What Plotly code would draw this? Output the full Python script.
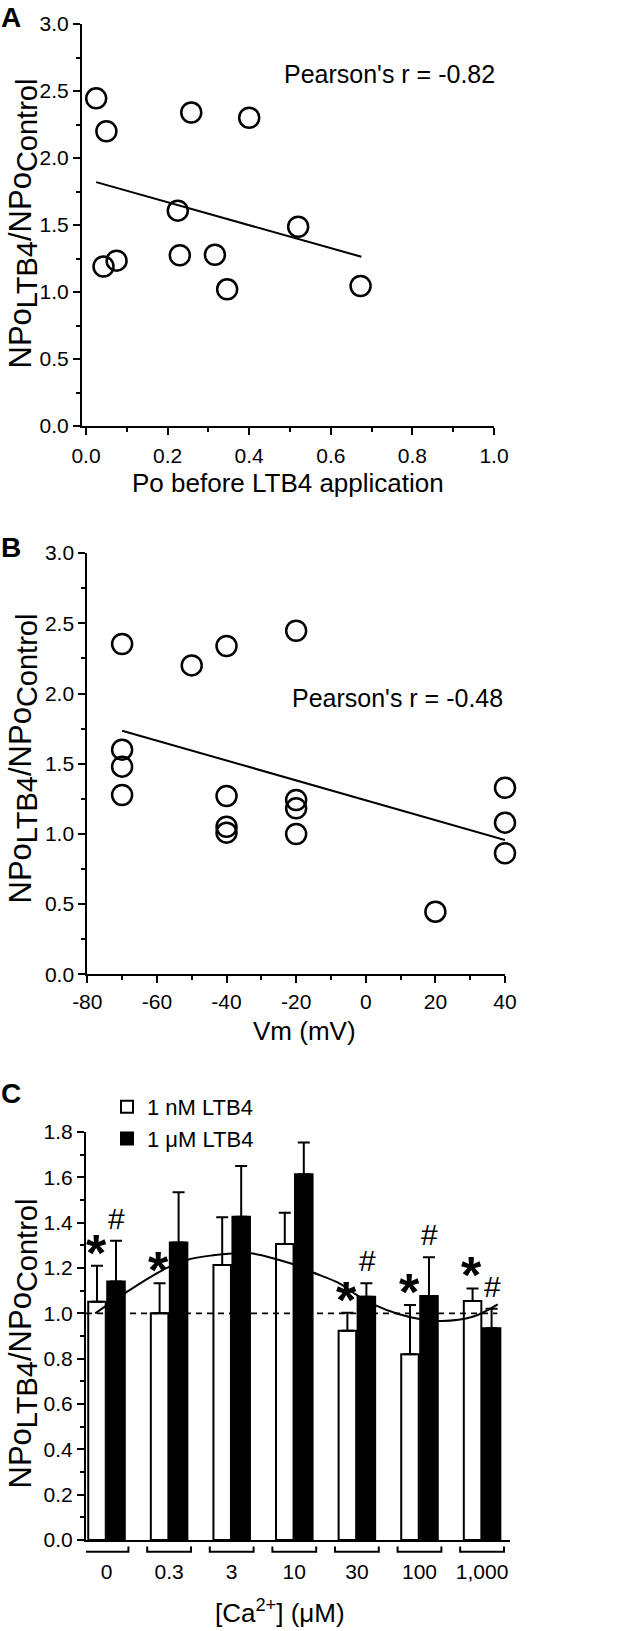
import plotly.graph_objects as go

W, H = 633, 1631
FONT = "Liberation Sans, Arial, Helvetica, sans-serif"

# ---------------- Panel A data ----------------
a_po = [0.025, 0.05, 0.258, 0.40, 0.225, 0.52, 0.043, 0.075, 0.23, 0.316, 0.346, 0.673]
a_ratio = [2.445, 2.20, 2.34, 2.30, 1.607, 1.487, 1.19, 1.234, 1.274, 1.278, 1.02, 1.045]
a_fit_x = [0.025, 0.675]
a_fit_y = [1.82, 1.263]
a_r_text = "Pearson's r = -0.82"

# ---------------- Panel B data ----------------
b_vm = [-70, -70, -70, -70, -50, -40, -40, -40, -40, -20, -20, -20, -20, 20, 40, 40, 40]
b_ratio = [2.353, 1.60, 1.479, 1.277, 2.20, 2.338, 1.27, 1.051, 1.009,
           2.447, 1.241, 1.182, 0.999, 0.446, 1.329, 1.08, 0.862]
b_fit_x = [-70, 40]
b_fit_y = [1.735, 0.957]
b_r_text = "Pearson's r = -0.48"
b_xticks = [-80, -60, -40, -20, 0, 20, 40]

# ---------------- Panel C data ----------------
ca_labels = ["0", "0.3", "3", "10", "30", "100", "1,000"]
nm_mean = [1.051, 1.00, 1.213, 1.306, 0.923, 0.819, 1.054]
nm_err = [0.159, 0.133, 0.211, 0.138, 0.080, 0.218, 0.056]
um_mean = [1.14, 1.313, 1.426, 1.614, 1.073, 1.076, 0.934]
um_err = [0.18, 0.221, 0.224, 0.14, 0.06, 0.171, 0.086]
nm_sig = ["*", "*", "", "", "*", "*", "*"]
um_sig = ["#", "", "", "", "#", "#", "#"]
fit_c_x = [-0.18, 0.3, 0.7, 1.0, 1.3, 1.7, 2.0, 2.3, 2.7, 3.0, 3.3, 3.7, 4.0, 4.3, 4.65, 5.0, 5.35, 5.85, 6.25]
fit_c_y = [1.00, 1.09, 1.16, 1.205, 1.237, 1.256, 1.264, 1.265, 1.24, 1.215, 1.18, 1.135,
           1.08, 1.035, 0.998, 0.975, 0.966, 0.985, 1.04]
ref_level = 1.0

cat_idx = list(range(len(ca_labels)))


def px_x(p):
    return p / W


def px_y(p):
    return 1 - p / H


fig = go.Figure()

# Panel A
fig.add_trace(go.Scatter(x=a_po, y=a_ratio, mode="markers", xaxis="x", yaxis="y",
                         marker=dict(symbol="circle-open", size=20, color="black",
                                     line=dict(width=2.5, color="black")),
                         cliponaxis=False, showlegend=False))
fig.add_trace(go.Scatter(x=a_fit_x, y=a_fit_y, mode="lines", xaxis="x", yaxis="y",
                         line=dict(color="black", width=2), showlegend=False))

# Panel B
fig.add_trace(go.Scatter(x=b_vm, y=b_ratio, mode="markers", xaxis="x2", yaxis="y2",
                         marker=dict(symbol="circle-open", size=20, color="black",
                                     line=dict(width=2.5, color="black")),
                         cliponaxis=False, showlegend=False))
fig.add_trace(go.Scatter(x=b_fit_x, y=b_fit_y, mode="lines", xaxis="x2", yaxis="y2",
                         line=dict(color="black", width=2), showlegend=False))

# Panel C
fig.add_trace(go.Bar(x=cat_idx, y=nm_mean, name="1 nM LTB4", xaxis="x3", yaxis="y3",
                     marker=dict(color="white", line=dict(color="black", width=2)),
                     error_y=dict(type="data", array=nm_err, symmetric=False,
                                  arrayminus=[0] * len(nm_err), color="black",
                                  thickness=2, width=6)))
fig.add_trace(go.Bar(x=cat_idx, y=um_mean, name="1 \u03bcM LTB4", xaxis="x3", yaxis="y3",
                     marker=dict(color="black", line=dict(color="black", width=2)),
                     error_y=dict(type="data", array=um_err, symmetric=False,
                                  arrayminus=[0] * len(um_err), color="black",
                                  thickness=2, width=6)))
fig.add_trace(go.Scatter(x=fit_c_x, y=fit_c_y, mode="lines", xaxis="x3", yaxis="y3",
                         line=dict(color="black", width=2, shape="spline", smoothing=1.0),
                         showlegend=False))

axis_common = dict(showline=True, linecolor="black", linewidth=2, ticks="outside",
                   ticklen=7, tickwidth=2, tickcolor="black", showgrid=False,
                   zeroline=False, automargin=False,
                   tickfont=dict(family=FONT, size=21, color="black"))

xa_dom = [81.9 / W, 494 / W]
ya_dom = [px_y(426), px_y(24)]
xb_dom = [87.3 / W, 505 / W]
yb_dom = [px_y(974.3), px_y(553.1)]
xc_dom = [86 / W, 510 / W]
yc_dom = [px_y(1540), px_y(1132)]


def minor(d):
    return dict(ticks="outside", ticklen=4, tickwidth=2, tickcolor="black", dtick=d, showgrid=False)


fig.update_layout(
    template="none",
    width=W, height=H, autosize=False,
    margin=dict(l=0, r=0, t=0, b=0, pad=0),
    paper_bgcolor="white", plot_bgcolor="white",
    font=dict(family=FONT, color="black"),
    barmode="group", bargap=0.393, bargroupgap=0.077,
    xaxis=dict(axis_common, domain=xa_dom, anchor="y", range=[-0.01, 1.0], dtick=0.2,
               tick0=0, tickformat=".1f", minor=minor(0.1), ticklabelstandoff=3),
    yaxis=dict(axis_common, domain=ya_dom, anchor="x", range=[0, 3.0], dtick=0.5,
               tick0=0, tickformat=".1f", minor=minor(0.25)),
    xaxis2=dict(axis_common, domain=xb_dom, anchor="y2", range=[-80, 40],
                tickvals=b_xticks, ticktext=[str(v) for v in b_xticks], minor=minor(10)),
    yaxis2=dict(axis_common, domain=yb_dom, anchor="x2", range=[0, 3.0], dtick=0.5,
                tick0=0, tickformat=".1f", minor=minor(0.25)),
    xaxis3=dict(axis_common, domain=xc_dom, anchor="y3", range=[-0.3275, 6.446],
                tickvals=cat_idx, ticktext=ca_labels, ticks="", ticklabelstandoff=12),
    yaxis3=dict(axis_common, domain=yc_dom, anchor="x3", range=[0, 1.8], dtick=0.2,
                tick0=0, tickformat=".1f", minor=minor(0.1)),
    legend=dict(x=px_x(107), y=px_y(1086), xanchor="left", yanchor="top",
                bgcolor="rgba(0,0,0,0)", borderwidth=0,
                font=dict(family=FONT, size=22, color="black"),
                tracegroupgap=0, itemwidth=30),
)

# Reference dashed line at 1.0 and bracket marks under categories (panel C)
shapes = [dict(type="line", xref="x3 domain", yref="y3", x0=0, x1=0.97,
               y0=ref_level, y1=ref_level, line=dict(color="black", width=1.6, dash="6px,5px"),
               layer="above")]
ylow, yhigh = -11.7 / 408, -6.5 / 408
for i in cat_idx:
    l, r = i - 0.35, i + 0.35
    shapes.append(dict(type="path", xref="x3", yref="y3 domain",
                       path=f"M{l},{yhigh} L{l},{ylow} L{r},{ylow} L{r},{yhigh}",
                       line=dict(color="black", width=2)))
fig.update_layout(shapes=shapes)

ann = []
ytitle = ("NPo<sub><span style='font-size:29px'>LTB4</span></sub>/NPo"
          "<sub><span style='font-size:29px'>Control</span></sub>")
for cy in (224, 759, 1344):
    ann.append(dict(text=ytitle, xref="paper", yref="paper", x=0, y=px_y(cy),
                    xanchor="left", yanchor="middle", textangle=-90, showarrow=False,
                    font=dict(family=FONT, size=31, color="black")))
for txt, cx, cy in (("A", 11, 17), ("B", 11, 547), ("C", 11, 1093)):
    ann.append(dict(text=f"<b>{txt}</b>", xref="paper", yref="paper", x=px_x(cx), y=px_y(cy),
                    xanchor="center", yanchor="middle", showarrow=False,
                    font=dict(family=FONT, size=28, color="black")))
for txt, cx, cy in (("Po before LTB4 application", 288, 483),
                    ("Vm (mV)", 304, 1031),
                    ("[Ca<sup>2+</sup>] (\u03bcM)", 280, 1611)):
    ann.append(dict(text=txt, xref="paper", yref="paper", x=px_x(cx), y=px_y(cy),
                    xanchor="center", yanchor="middle", showarrow=False,
                    font=dict(family=FONT, size=26, color="black")))
ann.append(dict(text=a_r_text, xref="paper", yref="paper", x=px_x(497), y=px_y(74),
                xanchor="right", yanchor="middle", showarrow=False,
                font=dict(family=FONT, size=25, color="black")))
ann.append(dict(text=b_r_text, xref="paper", yref="paper", x=px_x(505), y=px_y(698),
                xanchor="right", yanchor="middle", showarrow=False,
                font=dict(family=FONT, size=25, color="black")))

# significance marks
for i in cat_idx:
    if nm_sig[i]:
        ann.append(dict(text=f"<b>{nm_sig[i]}</b>", xref="x3", yref="y3", x=i - 0.165,
                        y=nm_mean[i] + nm_err[i], xanchor="center", yanchor="bottom",
                        yshift=-18, showarrow=False,
                        font=dict(family=FONT, size=52, color="black")))
    if um_sig[i]:
        ann.append(dict(text=um_sig[i], xref="x3", yref="y3", x=i + 0.165,
                        y=um_mean[i] + um_err[i], xanchor="center", yanchor="bottom",
                        yshift=4, showarrow=False,
                        font=dict(family=FONT, size=30, color="black")))
fig.update_layout(annotations=ann)

fig.write_html("out.html", config={"displayModeBar": False},
               post_script="document.body.style.margin='0px';document.body.style.padding='0px';")
